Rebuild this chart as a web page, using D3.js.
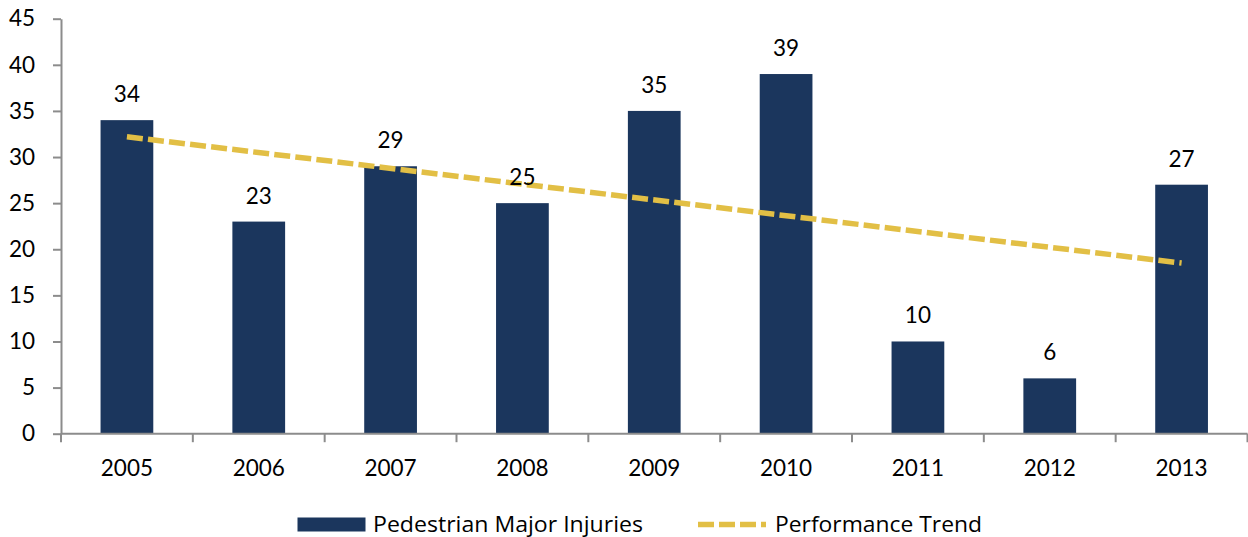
<!DOCTYPE html>
<html>
<head>
<meta charset="utf-8">
<script src="https://cdn.jsdelivr.net/npm/d3@7/dist/d3.min.js"></script>
<style>
  html, body { margin: 0; padding: 0; background: #fff; }
  svg { display: block; font-family: Lato, "Open Sans", sans-serif; }
</style>
</head>
<body>
<svg id="chart" width="1248" height="537"></svg>
<script>
// Pedestrian major injuries per year, with the performance trend line
const years = ["2005", "2006", "2007", "2008", "2009", "2010", "2011", "2012", "2013"];
const injuries = [34, 23, 29, 25, 35, 39, 10, 6, 27];
const trendYears = ["2005", "2013"];
const trendValues = [32.2, 18.5];
const yTicks = [0, 5, 10, 15, 20, 25, 30, 35, 40, 45];
const seriesNames = ["Pedestrian Major Injuries", "Performance Trend"];

const barColor = "#1b365d";
const trendColor = "#e2bf45";
const axisColor = "#8c8c8c";

const svg = d3.select("#chart");
const plot = { left: 61, right: 1247.5, top: 18.7, bottom: 433.7 };

const x = d3.scaleBand()
  .domain(years)
  .range([plot.left, plot.right])
  .paddingInner(0.6)
  .paddingOuter(0.3);

const y = d3.scaleLinear()
  .domain([0, 45])
  .range([plot.bottom, plot.top]);

// Bars
svg.append("g")
  .selectAll("rect")
  .data(years.map((yr, i) => ({ yr, v: injuries[i] })))
  .join("rect")
  .attr("x", d => x(d.yr))
  .attr("y", d => y(d.v))
  .attr("width", x.bandwidth())
  .attr("height", d => y(0) - y(d.v))
  .attr("fill", barColor);

// Trend line (drawn over bars)
const line = d3.line()
  .x(d => x(d.yr) + x.bandwidth() / 2)
  .y(d => y(d.v));
svg.append("path")
  .datum(trendYears.map((yr, i) => ({ yr, v: trendValues[i] })))
  .attr("d", line)
  .attr("fill", "none")
  .attr("stroke", trendColor)
  .attr("stroke-width", 5.5)
  .attr("stroke-dasharray", "16,5.2");

// Value labels above bars
svg.append("g")
  .selectAll("text")
  .data(years.map((yr, i) => ({ yr, v: injuries[i] })))
  .join("text")
  .attr("x", d => x(d.yr) + x.bandwidth() / 2)
  .attr("y", d => y(d.v) - 18)
  .attr("text-anchor", "middle")
  .attr("font-size", 22.5)
  .attr("fill", "#000")
  .text(d => d.v);

// Y axis
const yAxis = svg.append("g")
  .attr("transform", `translate(${plot.left},0)`)
  .call(d3.axisLeft(y).tickValues(yTicks).tickSize(8).tickPadding(18).tickSizeOuter(0));
yAxis.select(".domain").attr("stroke", axisColor).attr("stroke-width", 2);
yAxis.selectAll(".tick line").attr("stroke", axisColor).attr("stroke-width", 2);
yAxis.selectAll(".tick text")
  .attr("font-size", 22.5)
  .attr("font-family", "Lato, 'Open Sans', sans-serif")
  .attr("fill", "#000");

// X axis: baseline with ticks at category boundaries
const xAxisG = svg.append("g");
xAxisG.append("line")
  .attr("x1", plot.left).attr("x2", plot.right)
  .attr("y1", y(0)).attr("y2", y(0))
  .attr("stroke", axisColor).attr("stroke-width", 2);
const step = x.step();
const firstEdge = x(years[0]) - step * x.paddingOuter();
const boundaries = d3.range(years.length + 1).map(i => firstEdge + i * step);
xAxisG.selectAll("line.tk")
  .data(boundaries)
  .join("line")
  .attr("class", "tk")
  .attr("x1", d => d).attr("x2", d => d)
  .attr("y1", y(0)).attr("y2", y(0) + 8.5)
  .attr("stroke", axisColor).attr("stroke-width", 2);
xAxisG.selectAll("text")
  .data(years)
  .join("text")
  .attr("x", d => x(d) + x.bandwidth() / 2)
  .attr("y", 476)
  .attr("text-anchor", "middle")
  .attr("font-size", 22.5)
  .attr("fill", "#000")
  .text(d => d);

// Legend
const legend = svg.append("g").attr("font-family", "'Open Sans', Lato, sans-serif");
legend.append("rect")
  .attr("x", 297.5).attr("y", 517.5)
  .attr("width", 68).attr("height", 14)
  .attr("fill", barColor);
legend.append("text")
  .attr("x", 373).attr("y", 532)
  .attr("font-size", 21)
  .attr("fill", "#000")
  .attr("textLength", 270)
  .attr("lengthAdjust", "spacingAndGlyphs")
  .text(seriesNames[0]);
legend.append("line")
  .attr("x1", 698).attr("x2", 766)
  .attr("y1", 524.5).attr("y2", 524.5)
  .attr("stroke", trendColor)
  .attr("stroke-width", 5.5)
  .attr("stroke-dasharray", "16,5");
legend.append("text")
  .attr("x", 775).attr("y", 532)
  .attr("font-size", 21)
  .attr("fill", "#000")
  .attr("textLength", 207)
  .attr("lengthAdjust", "spacingAndGlyphs")
  .text(seriesNames[1]);
</script>
</body>
</html>
